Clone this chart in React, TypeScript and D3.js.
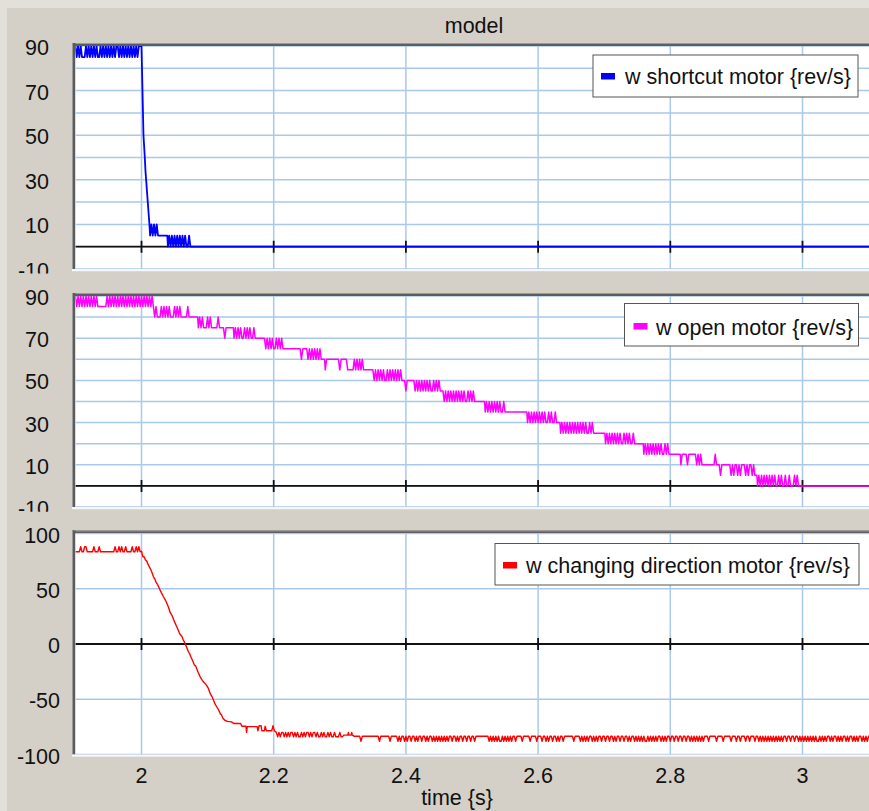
import React from "react";
import * as d3 from "d3";

const W = 869;
const H = 811;
const FONT = "'Liberation Sans', Arial, Helvetica, sans-serif";
const FS = 21.5;

// ---------- axis data ----------
const timeTicks = [2, 2.2, 2.4, 2.6, 2.8, 3];
const timeTickLabels = ["2", "2.2", "2.4", "2.6", "2.8", "3"];
const timeGrid = [2, 2.2, 2.4, 2.6, 2.8, 3, 3.2];
const speedGrid = [90, 80, 70, 60, 50, 40, 30, 20, 10, 0, -10];
const speedTickValues = [90, 70, 50, 30, 10, -10];
const speedTickLabels = ["90", "70", "50", "30", "10", "-10"];
const directionGrid = [100, 50, 0, -50, -100];
const directionTickValues = [100, 50, 0, -50, -100];
const directionTickLabels = ["100", "50", "0", "-50", "-100"];

const seriesNames = [
  "w shortcut motor {rev/s}",
  "w open motor {rev/s}",
  "w changing direction motor {rev/s}",
];
const seriesColors = ["#0000ff", "#ff00ff", "#ff0000"];

// ---------- series data (time in ms, value in rev/s) ----------
// explicit points [ms, value]
// dither blocks: [start ms, sample step ms, value for '0', value for '1', samples]
type Block = [number, number, number, number, string];

const shortcutPoints: [number, number][] = [
  [2000, 90], [2003, 50], [2005, 40], [2006, 34], [2012, 10],
  [2039, 5], [2076, 0], [3110, 0],
];
const shortcutDither: Block[] = [
  [1900, 2, 85, 90, "1010100010 1010101001 0101010101 0110101010 1010101011"],
  [2013, 2, 5, 10, "0101010"],
  [2040, 2, 0, 5, "0101010101 01010010"],
];

const openPoints: [number, number][] = [
  [2072, 80], [2085, 80], [2118, 75], [2123, 75], [2139, 75], [2186, 70],
  [2218, 65], [2240, 65], [2277, 60], [2349, 55], [2398, 50], [2456, 45],
  [2519, 40], [2583, 35], [2633, 30], [2701, 25], [2759, 20], [2815, 15],
  [2872, 10], [2931, 5], [2998, 0], [3110, 0],
];
const openDither: Block[] = [
  [1900, 2, 85, 90, "1010101010 1010101000 0000101010 1010101010 1010101010 1010101010"],
  [2020, 2, 80, 85, "0100010101 0100010101 000001"],
  [2086, 2, 75, 80, "0101000101 000001"],
  [2124, 2, 70, 75, "101"],
  [2140, 2, 70, 75, "0101010010 10100100"],
  [2188, 2, 65, 70, "0101010010 10100"],
  [2242, 2, 60, 65, "01111 010101010100"],
  [2278, 2, 55, 60, "0 1111111111 0 1 1111 0 0000 10101010"],
  [2350, 2, 50, 55, "1010101010 0101010101 010"],
  [2400, 2, 45, 50, "01 11111 0101010101 0100101010"],
  [2458, 2, 40, 45, "0101010101 0101010010 101000"],
  [2520, 2, 35, 40, "0101010101 0100100"],
  [2584, 2, 30, 35, "0101010101 0101001010 0100"],
  [2634, 2, 25, 30, "0101010101 0101010101 0010100"],
  [2702, 2, 20, 25, "0101010101 0100101010 0100"],
  [2760, 2, 15, 20, "0101010101 0101001010 00"],
  [2816, 2, 10, 15, "01111 0111111 01010 000000000 10"],
  [2874, 2, 5, 10, "10 1111111 010 11 010 111 010 11 010"],
  [2932, 2, 0, 5, "0101010101 0101001010 0100100010 100"],
];

const directionPoints: [number, number][] = [
  [2000, 84], [2002, 79], [2004, 79], [2006, 76], [2008, 75], [2010, 72],
  [2013, 68.5], [2015, 66], [2018, 61], [2020, 59], [2022, 56], [2025, 53],
  [2028, 49], [2030, 46.5], [2033, 43], [2036, 40], [2039, 36], [2041, 33],
  [2043, 29], [2046, 26], [2048, 23], [2050, 20], [2053, 16], [2056, 12],
  [2058, 9], [2061, 7], [2063, 4], [2066, 0.5], [2069, -4], [2071, -7],
  [2073, -9], [2075, -12], [2078, -16], [2080, -19], [2082, -20], [2084, -23],
  [2086, -26], [2089, -30], [2092, -33], [2095, -35], [2098, -37], [2101, -40],
  [2104, -45], [2107, -48], [2109, -51], [2111, -54], [2114, -57], [2117, -60],
  [2119, -63], [2121, -64], [2123, -67], [2126, -69], [2130, -70], [2136, -70.5],
  [2140, -72], [2150, -72], [2152, -74.5], [2158, -74.5], [2159, -80], [2160, -74.8],
  [2175, -74.8], [2176, -78.5], [2178, -74], [2181, -74], [2182, -78.5], [2186, -78.5],
  [2187, -74.5], [2189, -78.5], [2197, -78.5], [2199, -74], [2201, -78.5],
  [2306, -82.5], [2312, -82.5], [2313, -80], [2314, -82.5], [2317, -82.5],
  [2318, -80], [2319, -82.5], [2322, -83.5],
];
const directionDither: Block[] = [
  [1900, 2, 83.5, 88, "0000100110 0000100010 0000000000 1001010010 0001001010"],
  [2204, 2, -84, -80, "1010110101 0110101001 0101101011 0100101001 0100100010 0"],
  [2324, 2, -83.5, -88,
    "0000100000 0000000010 0000001000 0010100101 0010010100 1001010010 1010101010 1001001010 " +
    "0100100100 1000000000 0101010101 1010101010 0100001000 0010000100 0100101001 0010100100 " +
    "0000010000 1010101001 0101001001 0010010100 1001001010 0101010101 1010101010 0101010010 " +
    "0100100100 1001010101 0101000100 0001000010 0000100010 0100010010 0010010101 0101010101 " +
    "0101001001 0010010101 0101010101 1010101001 0100101010 0101001010 1001010100 0101"],
];

type Pt = { t: number; v: number };
function buildSeries(points: [number, number][], blocks: Block[]): Pt[] {
  const all: Pt[] = points.map(([t, v]) => ({ t, v }));
  for (const [t0, step, v0, v1, raw] of blocks) {
    const bits = raw.replace(/\s/g, "");
    for (let i = 0; i < bits.length; i++) {
      all.push({ t: t0 + i * step, v: bits[i] === "1" ? v1 : v0 });
    }
  }
  all.sort((a, b) => a.t - b.t);
  return all;
}

const shortcutSeries = buildSeries(shortcutPoints, shortcutDither);
const openSeries = buildSeries(openPoints, openDither);
const directionSeries = buildSeries(directionPoints, directionDither);

// ---------- layout ----------
const PLOT_LEFT = 75.4;
const x = d3.scaleLinear().domain([1.9, 3.1]).range([PLOT_LEFT, PLOT_LEFT + 1.2 * 661]);

type Panel = {
  top: number;
  bottom: number;
  domain: [number, number];
  clipTop: number;
  clipBottom: number;
  labelX: number;
  grid: number[];
  tickValues: number[];
  tickLabels: string[];
  data: Pt[];
  color: string;
  name: string;
  strokeWidth: number;
  legend: { x: number; y: number; w: number; h: number; sx: number; sy: number; tx: number; ty: number };
};

const panels: Panel[] = [
  {
    top: 46, bottom: 269, domain: [-10, 90], clipTop: 8, clipBottom: 273.5, labelX: 49,
    grid: speedGrid, tickValues: speedTickValues, tickLabels: speedTickLabels,
    data: shortcutSeries, color: seriesColors[0], name: seriesNames[0], strokeWidth: 1.8,
    legend: { x: 593, y: 55, w: 265, h: 42, sx: 601, sy: 73, tx: 625, ty: 84 },
  },
  {
    top: 296, bottom: 507, domain: [-10, 90], clipTop: 273.5, clipBottom: 511.7, labelX: 49,
    grid: speedGrid, tickValues: speedTickValues, tickLabels: speedTickLabels,
    data: openSeries, color: seriesColors[1], name: seriesNames[1], strokeWidth: 1.5,
    legend: { x: 624.5, y: 303.5, w: 234, h: 42.5, sx: 633.5, sy: 323, tx: 656, ty: 334.5 },
  },
  {
    top: 533.5, bottom: 754.5, domain: [-100, 100], clipTop: 511.7, clipBottom: 811, labelX: 60,
    grid: directionGrid, tickValues: directionTickValues, tickLabels: directionTickLabels,
    data: directionSeries, color: seriesColors[2], name: seriesNames[2], strokeWidth: 1.4,
    legend: { x: 495, y: 543.5, w: 364, h: 41.5, sx: 503, sy: 562, tx: 526, ty: 573 },
  },
];

const GRID = "#a9c9eb";

function PanelView({ p, i }: { p: Panel; i: number }) {
  const y = d3.scaleLinear().domain(p.domain).range([p.bottom, p.top]);
  const line = d3
    .line<Pt>()
    .x((d) => x(d.t / 1000))
    .y((d) => y(d.v));
  const plotW = W - PLOT_LEFT;
  const y0 = y(0);
  return (
    <g>
      <defs>
        <clipPath id={`plot${i}`}>
          <rect x={PLOT_LEFT} y={p.top} width={plotW} height={p.bottom - p.top} />
        </clipPath>
        <clipPath id={`lab${i}`}>
          <rect x={0} y={p.clipTop} width={W} height={p.clipBottom - p.clipTop} />
        </clipPath>
      </defs>
      {/* frame */}
      <rect x={72} y={p.top - 3} width={W - 72} height={3} fill="#5c5c5c" />
      <rect x={72} y={p.top - 3} width={W - 72} height={1} fill="#9a9a9a" />
      <rect x={72} y={p.top - 3} width={3.4} height={p.bottom - p.top + 3} fill="#5c5c5c" />
      <rect x={72} y={p.top - 3} width={1} height={p.bottom - p.top + 3} fill="#9a9a9a" />
      <rect x={72} y={p.bottom} width={W - 72} height={2.2} fill="#f7f7f7" />
      <rect x={PLOT_LEFT} y={p.top} width={plotW} height={p.bottom - p.top} fill="#ffffff" />
      <g clipPath={`url(#plot${i})`}>
        {p.grid.map((g) => (
          <line key={`h${g}`} x1={PLOT_LEFT} x2={W} y1={y(g)} y2={y(g)} stroke={GRID} strokeWidth={1.5} />
        ))}
        {timeGrid.map((t) => (
          <line key={`v${t}`} x1={x(t)} x2={x(t)} y1={p.top} y2={p.bottom} stroke={GRID} strokeWidth={1.5} />
        ))}
        <line x1={PLOT_LEFT} x2={W} y1={y0} y2={y0} stroke="#111" strokeWidth={1.8} />
        {timeGrid.map((t) => (
          <line key={`t${t}`} x1={x(t)} x2={x(t)} y1={y0 - 6} y2={y0 + 6} stroke="#111" strokeWidth={1.8} />
        ))}
        <path
          d={line(p.data) || ""}
          fill="none"
          stroke={p.color}
          strokeWidth={p.strokeWidth}
          strokeLinejoin="round"
        />
      </g>
      <g clipPath={`url(#lab${i})`}>
        {p.tickValues.map((v, k) => (
          <text
            key={`l${v}`}
            x={p.labelX}
            y={y(v) + 9}
            textAnchor="end"
            fontFamily={FONT}
            fontSize={FS}
            fill="#111"
          >
            {p.tickLabels[k]}
          </text>
        ))}
      </g>
      {/* legend */}
      <rect x={p.legend.x} y={p.legend.y} width={p.legend.w} height={p.legend.h} fill="#fff" stroke="#555" strokeWidth={1} />
      <rect x={p.legend.sx} y={p.legend.sy} width={14} height={6.5} fill={p.color} />
      <text x={p.legend.tx} y={p.legend.ty} fontFamily={FONT} fontSize={FS} fill="#111">
        {p.name}
      </text>
    </g>
  );
}

export default function App() {
  return (
    <svg
      width={W}
      height={H}
      viewBox={`0 0 ${W} ${H}`}
      style={{ position: "absolute", left: 0, top: 0, display: "block" }}
    >
      <rect x={0} y={0} width={W} height={H} fill="#e3e0da" />
      <rect x={7} y={8} width={W - 7} height={H - 8} fill="#d4d0c8" />
      <text x={474} y={33} textAnchor="middle" fontFamily={FONT} fontSize={FS} fill="#111">
        model
      </text>
      {panels.map((p, i) => (
        <PanelView key={i} p={p} i={i} />
      ))}
      {timeTicks.map((t, k) => (
        <text key={t} x={x(t)} y={783} textAnchor="middle" fontFamily={FONT} fontSize={FS} fill="#111">
          {timeTickLabels[k]}
        </text>
      ))}
      <text x={457} y={805} textAnchor="middle" fontFamily={FONT} fontSize={FS} fill="#111">
        time {"{s}"}
      </text>
    </svg>
  );
}
